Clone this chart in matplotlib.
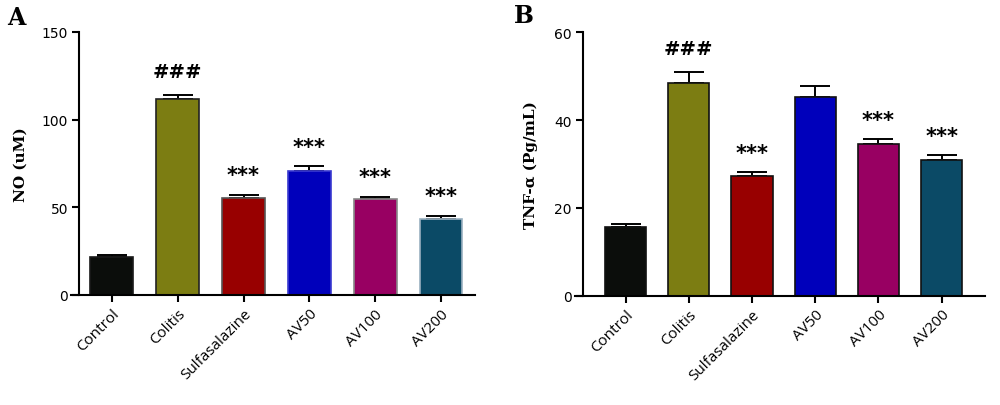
import numpy as np
import matplotlib.pyplot as plt

groups = ['Control', 'Colitis', 'Sulfasalazine', 'AV50', 'AV100', 'AV200']
colors = ['#0b0d0b', '#7c7d12', '#980000', '#0000bb', '#980062', '#0b4a66']

no_mean = [21.5, 112.0, 55.3, 70.5, 54.6, 43.4]
no_err = [1.4, 2.0, 1.9, 2.9, 1.3, 1.8]
no_marks = ['', '###', '***', '***', '***', '***']

tnf_mean = [15.6, 48.4, 27.2, 45.2, 34.6, 30.9]
tnf_err = [0.8, 2.6, 0.9, 2.6, 1.1, 1.1]
tnf_marks = ['', '###', '***', '', '***', '***']

edges_a = ['#1a1a1a', '#222222', '#555555', '#3a3ad0', '#888888', '#9ab0c0']
edges_b = ['#111111'] * 6

fig = plt.figure(figsize=(10, 4.06), dpi=100)
ax1 = fig.add_axes([0.071, 0.271, 0.404, 0.648])
ax2 = fig.add_axes([0.575, 0.269, 0.410, 0.649])


def panel(ax, mean, err, marks, edges, ylim, yticks, ylabel, xlim, spine_pos, pad):
    x = np.arange(len(groups))
    ax.bar(x, mean, width=0.65, color=colors, edgecolor=edges, linewidth=1.2, zorder=2)
    ax.errorbar(x, mean, yerr=[np.zeros(len(err)), err], fmt='none', ecolor='black',
                elinewidth=1.4, capsize=11, capthick=1.4, zorder=1)
    for i, m in enumerate(marks):
        if m:
            off = 17 if m.startswith('#') else 14
            ax.annotate(m, (x[i], mean[i] + err[i]), xytext=(0, off), textcoords='offset points',
                        ha='center', va='center', fontsize=15 if m == '***' else 14,
                        fontweight='bold', family='DejaVu Sans')
    ax.set_xlim(*xlim)
    ax.set_ylim(*ylim)
    ax.set_yticks(yticks)
    ax.set_xticks(x)
    ax.set_xticklabels(groups, rotation=45, ha='right', rotation_mode='anchor',
                       family='Open Sans', fontsize=11)
    for lab in ax.get_yticklabels():
        lab.set_family('DejaVu Serif')
        lab.set_fontsize(11)
    ax.spines['top'].set_visible(False)
    ax.spines['right'].set_visible(False)
    ax.spines['left'].set_position(('axes', spine_pos))
    ax.spines['left'].set_bounds(ylim[0], ylim[1])
    for s in ['left', 'bottom']:
        ax.spines[s].set_linewidth(1.5)
    ax.tick_params(axis='both', width=1.5, length=5, direction='out', pad=3)
    ax.set_ylabel(ylabel, family='DejaVu Serif', fontweight='bold', fontsize=11, labelpad=pad)


panel(ax1, no_mean, no_err, no_marks, edges_a, (0, 150), [0, 50, 100, 150],
      'NO (uM)', (-0.62, 5.515), 0.02, 10)
panel(ax2, tnf_mean, tnf_err, tnf_marks, edges_b, (0, 60), [0, 20, 40, 60],
      'TNF-α (Pg/mL)', (-0.80, 5.685), 0.0195, 12)

fig.text(0.007, 1 - 18 / 406, 'A', family='DejaVu Serif', fontweight='bold', fontsize=17, va='center')
fig.text(0.514, 1 - 16 / 406, 'B', family='DejaVu Serif', fontweight='bold', fontsize=17, va='center')

fig.savefig('out.png', dpi=100)
